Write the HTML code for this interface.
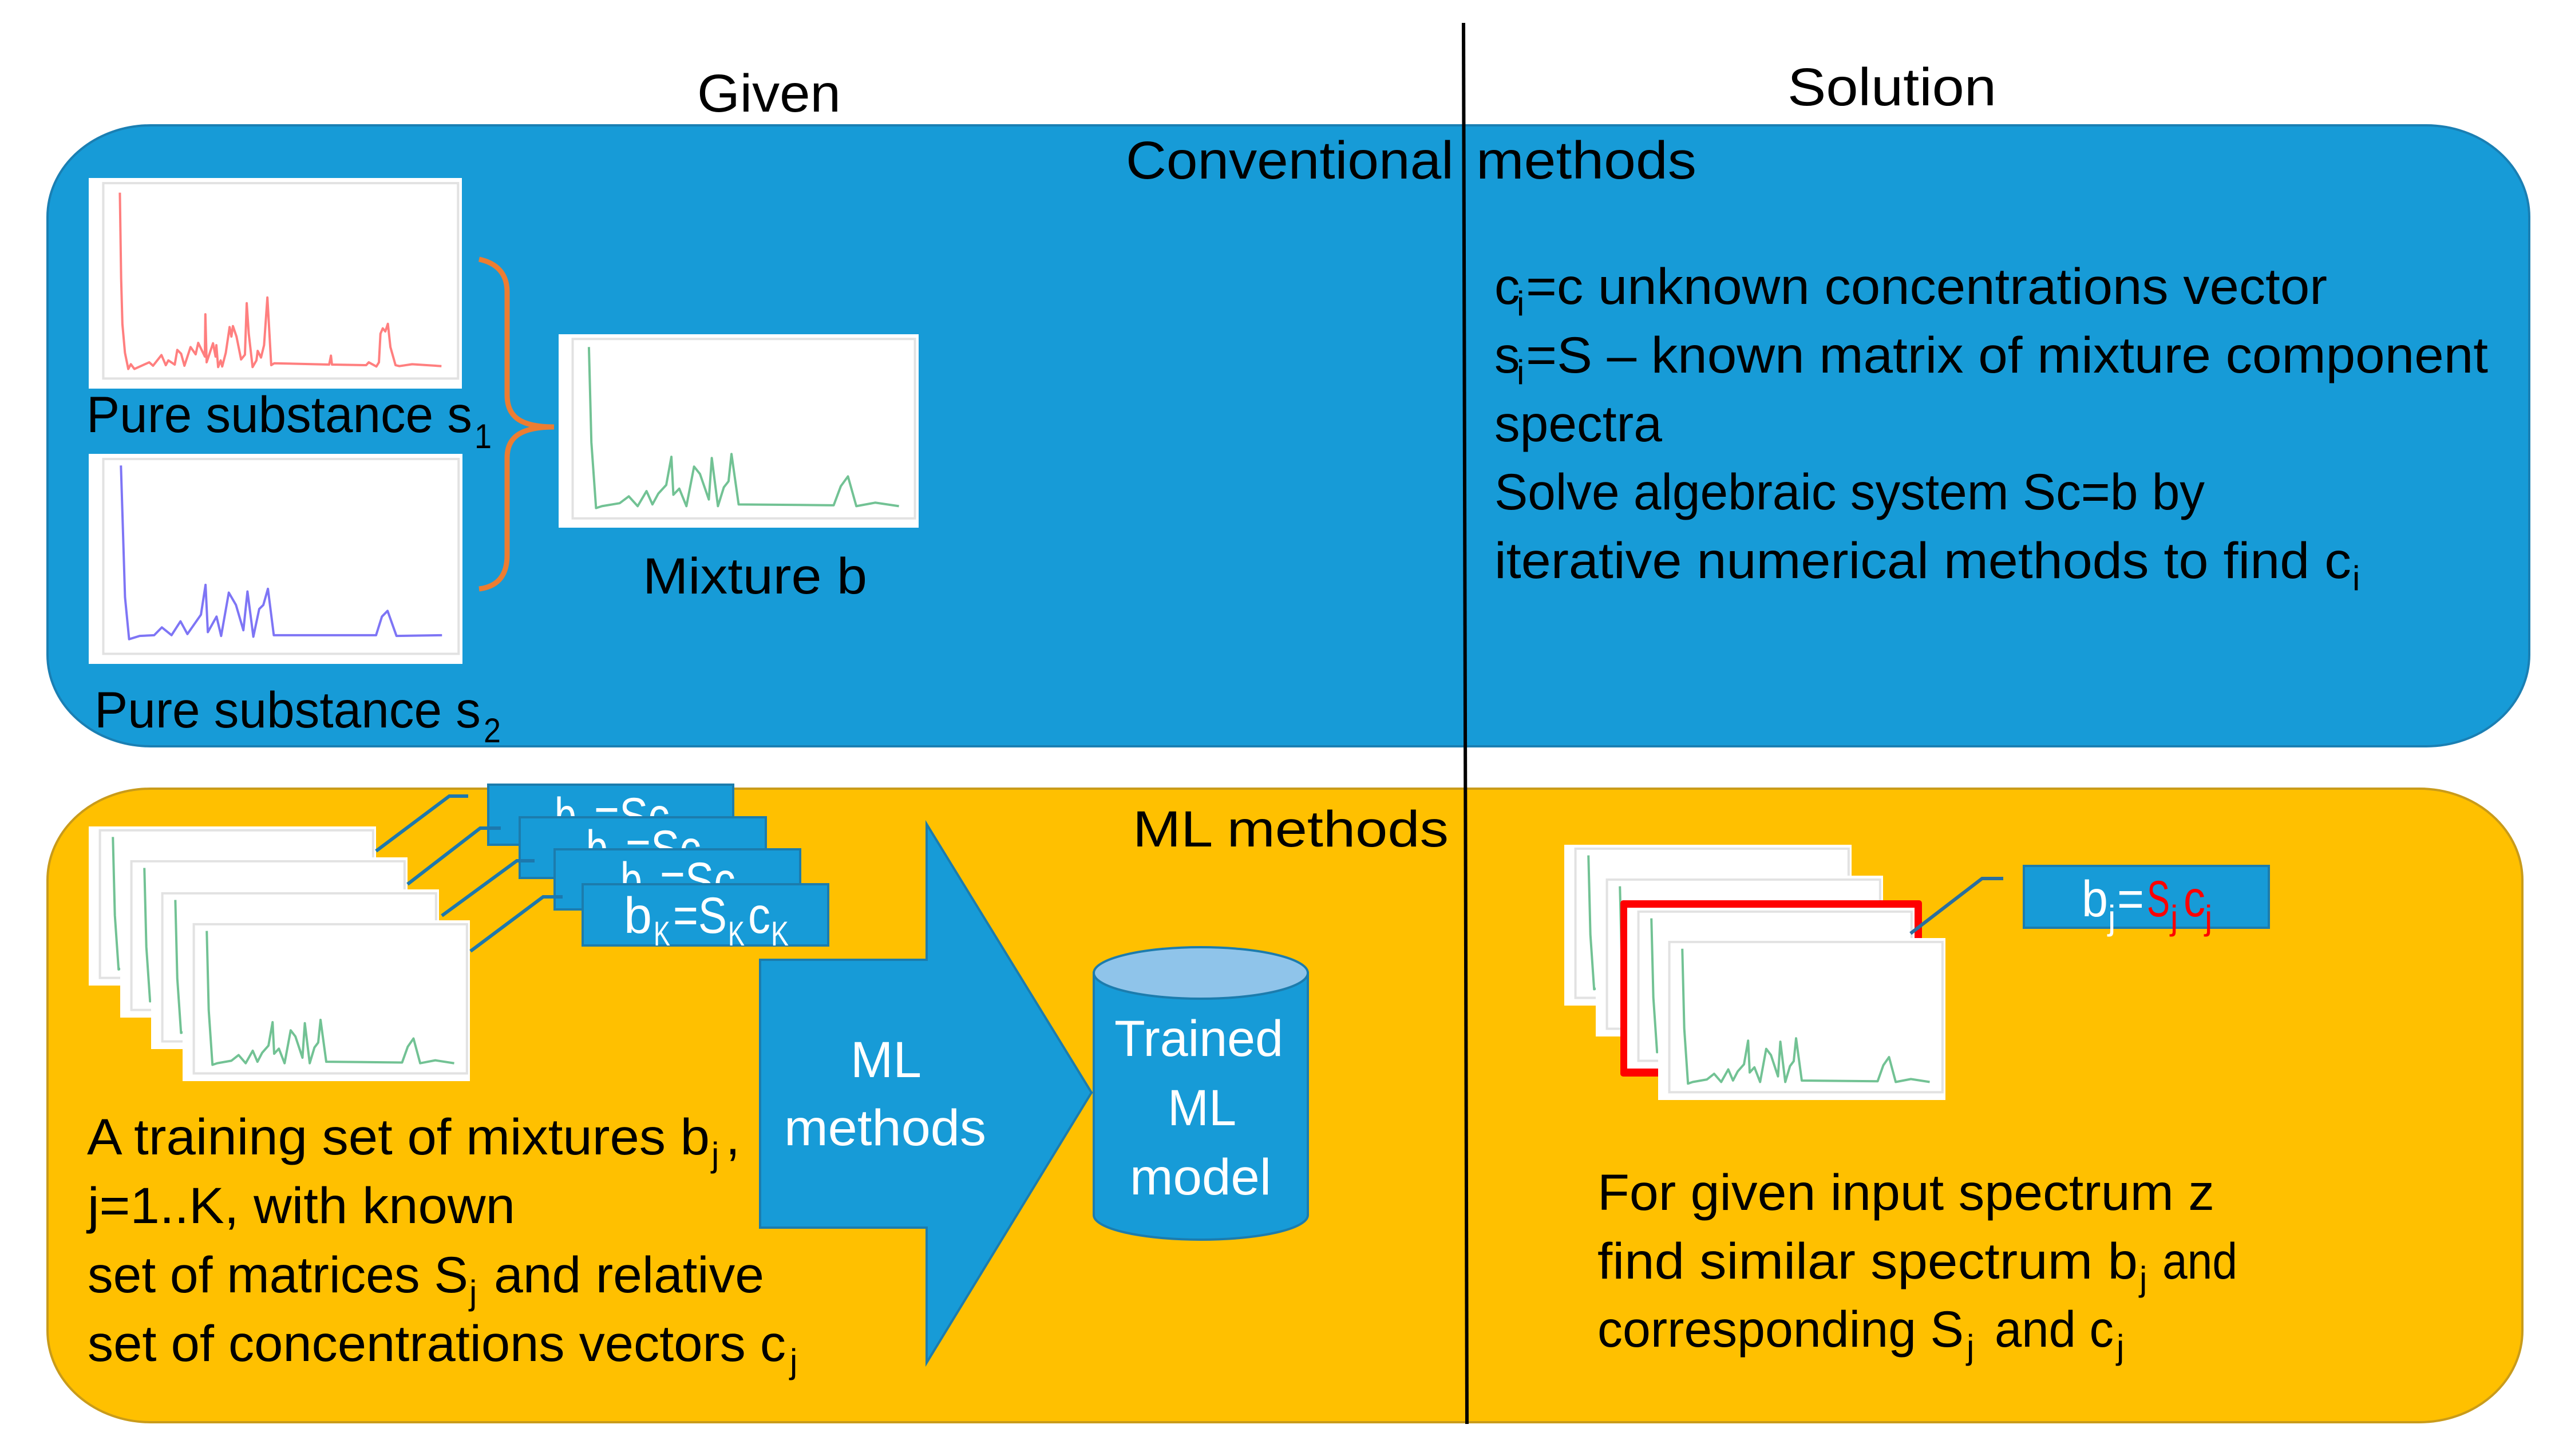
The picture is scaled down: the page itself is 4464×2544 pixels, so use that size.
<!DOCTYPE html>
<html><head><meta charset="utf-8"><title>Diagram</title>
<style>
html,body{margin:0;padding:0;background:#fff;width:4464px;height:2544px;overflow:hidden}
svg{display:block}
text{font-family:"Liberation Sans",sans-serif;font-size:89px;fill:#000}
.s{font-size:60px}
.w{fill:#fff}
.r{fill:#f00}
.line{fill:none;stroke-width:4;vector-effect:non-scaling-stroke;stroke-linejoin:round;opacity:.6}
.frame{fill:none;stroke:#e2e2e2;stroke-width:4;vector-effect:non-scaling-stroke}
.co{fill:none;stroke:#1d78ad;stroke-width:6}
.box{fill:#179bd7;stroke:#1c7cad;stroke-width:4}
</style></head><body>
<svg xmlns="http://www.w3.org/2000/svg" width="4464" height="2544" viewBox="0 0 4464 2544">
<defs>
<g id="base"><rect x="33" y="33" width="1462" height="1105" fill="#fff"/><rect x="90" y="60" width="1390" height="1025" class="frame"/></g>
<polyline id="red" class="line" stroke="#ff2b2b" points="155,110 160,560 165,800 175,950 188,1035 198,1010 212,1035 240,1018 270,1000 285,1018 318,962 335,1015 345,990 370,1012 380,935 395,955 408,1018 432,920 452,958 462,898 488,970 490,748 495,1000 520,900 530,970 533,910 540,1025 550,990 556,1022 570,950 585,815 592,865 598,810 612,865 630,985 645,960 652,690 660,850 675,1025 690,990 695,940 708,975 720,910 733,660 748,1015 760,1005 975,1012 982,965 986,1012 1120,1015 1130,1000 1160,1022 1170,1000 1176,850 1185,822 1195,838 1205,798 1215,920 1235,1015 1250,1020 1300,1010 1415,1020"/>
<polyline id="green" class="line" stroke="#159a4e" points="156,106 166,650 185,1026 209,1015 281,998 318,959 354,1015 390,929 414,1005 438,943 470,894 491,733 499,950 523,915 552,1015 583,789 607,831 643,977 655,740 680,1015 704,907 723,873 735,717 764,1005 1150,1010 1179,901 1208,845 1242,1015 1319,995 1415,1015"/>
<polyline id="blue" class="line" stroke="#2a1bf0" points="159,94 175,787 191,1008 232,991 289,987 319,946 357,987 392,914 419,981 472,879 490,722 499,971 533,889 551,991 581,763 609,828 638,961 654,757 677,995 700,849 716,828 734,743 757,987 1157,987 1180,889 1202,859 1237,991 1415,987"/>
</defs>

<rect width="4464" height="2544" fill="#fff"/>

<!-- panels -->
<rect x="83" y="219" width="4336" height="1085" rx="180" ry="160" fill="#179bd7" stroke="#1a7fb3" stroke-width="4"/>
<rect x="83" y="1378" width="4324" height="1107" rx="180" ry="160" fill="#ffc000" stroke="#c99b1a" stroke-width="4"/>

<!-- headers -->
<text x="1218" y="195" textLength="251" lengthAdjust="spacingAndGlyphs" style="font-size:93px">Given</text>
<text x="3123" y="184" textLength="365" lengthAdjust="spacingAndGlyphs" style="font-size:93px">Solution</text>
<text x="1967" y="312" textLength="573" lengthAdjust="spacingAndGlyphs" style="font-size:93px">Conventional</text>
<text x="2579" y="312" textLength="385" lengthAdjust="spacingAndGlyphs" style="font-size:93px">methods</text>
<text x="1979" y="1479" textLength="552" lengthAdjust="spacingAndGlyphs">ML methods</text>

<!-- top left images -->
<svg x="155" y="311" width="652" height="368" viewBox="33 33 1462 1105" preserveAspectRatio="none"><use href="#base"/><use href="#red"/></svg>
<svg x="155" y="793" width="653" height="367" viewBox="33 33 1462 1105" preserveAspectRatio="none"><use href="#base"/><use href="#blue"/></svg>
<svg x="976" y="584" width="629" height="338" viewBox="33 33 1462 1105" preserveAspectRatio="none"><use href="#base"/><use href="#green"/></svg>

<path d="M837 453 C870 460 886 480 886 510 L886 690 C886 725 905 746 968 746 C905 746 886 767 886 800 L886 970 C886 1005 870 1025 837 1029" fill="none" stroke="#ed7d31" stroke-width="9"/>

<text x="151" y="755" textLength="674" lengthAdjust="spacingAndGlyphs">Pure substance s</text>
<text x="829" y="783" class="s" textLength="30" lengthAdjust="spacingAndGlyphs">1</text>
<text x="165" y="1271" textLength="675" lengthAdjust="spacingAndGlyphs">Pure substance s</text>
<text x="845" y="1297" class="s" textLength="30" lengthAdjust="spacingAndGlyphs">2</text>
<text x="1123" y="1037" textLength="392" lengthAdjust="spacingAndGlyphs">Mixture b</text>

<!-- right top text -->
<text x="2611" y="531">c</text><text x="2650" y="551" class="s">i</text>
<text x="2666" y="531" textLength="1400" lengthAdjust="spacingAndGlyphs">=c unknown concentrations vector</text>
<text x="2611" y="651">s</text><text x="2650" y="671" class="s">i</text>
<text x="2666" y="651" textLength="1681" lengthAdjust="spacingAndGlyphs">=S – known matrix of mixture component</text>
<text x="2611" y="771" textLength="293" lengthAdjust="spacingAndGlyphs">spectra</text>
<text x="2611" y="890" textLength="1241" lengthAdjust="spacingAndGlyphs">Solve algebraic system Sc=b by</text>
<text x="2611" y="1010" textLength="1497" lengthAdjust="spacingAndGlyphs">iterative numerical methods to find c</text>
<text x="4110" y="1031" class="s">i</text>

<!-- lower-left stack -->
<svg x="155" y="1444" width="502" height="278" viewBox="33 33 1462 1105" preserveAspectRatio="none"><use href="#base"/><use href="#green"/></svg>
<svg x="210" y="1498" width="502" height="280" viewBox="33 33 1462 1105" preserveAspectRatio="none"><use href="#base"/><use href="#green"/></svg>
<svg x="264" y="1554" width="503" height="279" viewBox="33 33 1462 1105" preserveAspectRatio="none"><use href="#base"/><use href="#green"/></svg>
<svg x="319" y="1608" width="502" height="281" viewBox="33 33 1462 1105" preserveAspectRatio="none"><use href="#base"/><use href="#green"/></svg>

<!-- label boxes -->
<rect x="853" y="1371" width="428" height="105" class="box"/>
<text x="969" y="1456" class="w" textLength="38" lengthAdjust="spacingAndGlyphs">b</text>
<text x="1038" y="1456" class="w" textLength="132" lengthAdjust="spacingAndGlyphs">=Sc</text>
<rect x="908" y="1428" width="430" height="106" class="box"/>
<text x="1024" y="1513" class="w" textLength="38" lengthAdjust="spacingAndGlyphs">b</text>
<text x="1093" y="1513" class="w" textLength="132" lengthAdjust="spacingAndGlyphs">=Sc</text>
<rect x="969" y="1484" width="429" height="105" class="box"/>
<text x="1084" y="1569" class="w" textLength="38" lengthAdjust="spacingAndGlyphs">b</text>
<text x="1153" y="1569" class="w" textLength="132" lengthAdjust="spacingAndGlyphs">=Sc</text>
<rect x="1018" y="1545" width="429" height="107" class="box"/>
<text x="1090" y="1630" class="w" textLength="49" lengthAdjust="spacingAndGlyphs">b</text>
<text x="1142" y="1652" class="w s" textLength="29" lengthAdjust="spacingAndGlyphs">K</text>
<text x="1176" y="1630" class="w" textLength="94" lengthAdjust="spacingAndGlyphs">=S</text>
<text x="1272" y="1652" class="w s" textLength="29" lengthAdjust="spacingAndGlyphs">K</text>
<text x="1307" y="1630" class="w" textLength="39" lengthAdjust="spacingAndGlyphs">c</text>
<text x="1347" y="1652" class="w s" textLength="31" lengthAdjust="spacingAndGlyphs">K</text>

<polyline class="co" points="657,1487 785,1391 818,1391"/>
<polyline class="co" points="712,1545 839,1447 875,1447"/>
<polyline class="co" points="772,1600 903,1504 934,1504"/>
<polyline class="co" points="822,1662 949,1567 983,1567"/>

<!-- lower-left text -->
<text x="152" y="2017" textLength="1088" lengthAdjust="spacingAndGlyphs">A training set of mixtures b</text>
<text x="1243" y="2038" class="s">j</text><text x="1268" y="2017">,</text>
<text x="153" y="2137" textLength="747" lengthAdjust="spacingAndGlyphs">j=1..K, with known</text>
<text x="153" y="2258" textLength="665" lengthAdjust="spacingAndGlyphs">set of matrices S</text>
<text x="820" y="2279" class="s">j</text>
<text x="863" y="2258" textLength="472" lengthAdjust="spacingAndGlyphs">and relative</text>
<text x="153" y="2378" textLength="1220" lengthAdjust="spacingAndGlyphs">set of concentrations vectors c</text>
<text x="1380" y="2399" class="s">j</text>

<!-- arrow -->
<polygon points="1328,1677 1619,1677 1619,1440 1907,1909 1619,2381 1619,2145 1328,2145" fill="#179bd7" stroke="#1c7cad" stroke-width="4"/>
<text x="1486" y="1882" class="w" textLength="124" lengthAdjust="spacingAndGlyphs">ML</text>
<text x="1370" y="2001" class="w" textLength="353" lengthAdjust="spacingAndGlyphs">methods</text>

<!-- cylinder -->
<path d="M1911 1700 V2123 C1911 2147 1995 2166 2098 2166 C2201 2166 2285 2147 2285 2123 V1700 Z" fill="#179bd7" stroke="#1c7cad" stroke-width="4"/>
<ellipse cx="2098" cy="1700" rx="187" ry="45" fill="#8fc4ea" stroke="#1c7cad" stroke-width="4"/>
<text x="1947" y="1845" class="w" textLength="295" lengthAdjust="spacingAndGlyphs">Trained</text>
<text x="2040" y="1966" class="w" textLength="120" lengthAdjust="spacingAndGlyphs">ML</text>
<text x="1974" y="2087" class="w" textLength="247" lengthAdjust="spacingAndGlyphs">model</text>

<!-- lower-right stack -->
<svg x="2733" y="1476" width="502" height="281" viewBox="33 33 1462 1105" preserveAspectRatio="none"><use href="#base"/><use href="#green"/></svg>
<svg x="2788" y="1530" width="502" height="281" viewBox="33 33 1462 1105" preserveAspectRatio="none"><use href="#base"/><use href="#green"/></svg>
<rect x="2831" y="1573" width="527" height="308" rx="5" fill="#f00"/>
<svg x="2843" y="1586" width="502" height="281" viewBox="33 33 1462 1105" preserveAspectRatio="none"><use href="#base"/><use href="#green"/></svg>
<svg x="2897" y="1639" width="502" height="283" viewBox="33 33 1462 1105" preserveAspectRatio="none"><use href="#base"/><use href="#green"/></svg>

<polyline class="co" style="stroke:#2a6f9f" points="3338,1631 3463,1535 3500,1535"/>

<rect x="3536" y="1513" width="428" height="108" class="box"/>
<text x="3637" y="1601" class="w" textLength="46" lengthAdjust="spacingAndGlyphs">b</text>
<text x="3683" y="1624" class="w s">j</text>
<text x="3699" y="1601" class="w" textLength="47" lengthAdjust="spacingAndGlyphs">=</text>
<text x="3751" y="1601" class="r" textLength="40" lengthAdjust="spacingAndGlyphs">S</text>
<text x="3792" y="1624" class="r s">j</text>
<text x="3815" y="1601" class="r" textLength="38" lengthAdjust="spacingAndGlyphs">c</text>
<text x="3852" y="1624" class="r s">j</text>

<!-- lower-right text -->
<text x="2791" y="2114" textLength="1078" lengthAdjust="spacingAndGlyphs">For given input spectrum z</text>
<text x="2791" y="2234" textLength="944" lengthAdjust="spacingAndGlyphs">find similar spectrum b</text>
<text x="3738" y="2255" class="s">j</text>
<text x="3778" y="2234" textLength="131" lengthAdjust="spacingAndGlyphs">and</text>
<text x="2791" y="2353" textLength="640" lengthAdjust="spacingAndGlyphs">corresponding S</text>
<text x="3436" y="2374" class="s">j</text>
<text x="3485" y="2353" textLength="208" lengthAdjust="spacingAndGlyphs">and c</text>
<text x="3698" y="2374" class="s">j</text>

<!-- divider -->
<line x1="2557" y1="40" x2="2563" y2="2488" stroke="#000" stroke-width="6"/>
</svg>
</body></html>
